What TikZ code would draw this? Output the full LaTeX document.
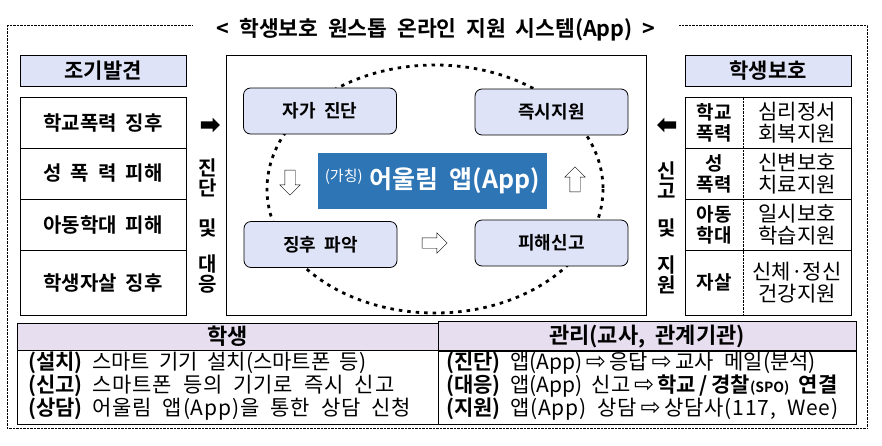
\documentclass[tikz,border=0pt]{standalone}
\usepackage{fontspec}
\setmainfont{Noto Sans CJK KR}[WordSpace=2,BoldFont={Noto Sans CJK KR Bold}]
\newfontfamily\arrowfont{DejaVu Sans}
\usetikzlibrary{shapes.arrows}
\definecolor{lav}{HTML}{DEE3F7}
\definecolor{lilac}{HTML}{E7DFF0}
\definecolor{appblue}{HTML}{2E75B6}
\newcommand{\fs}[1]{\fontsize{#1}{#1}\selectfont}
\newcommand{\harr}{\,{\arrowfont\fs{24}⇨}\,}
\newcommand{\wide}[1]{{\addfontfeature{LetterSpace=4}#1}}

\begin{document}
\begin{tikzpicture}[x=1pt,y=-1pt]
\tikzstyle{head} = [rectangle, draw, thick, fill=lav, minimum width=166pt,
minimum height=31pt, font=\fs{21}\bfseries]
\tikzstyle{cell} = [rectangle, draw, thick, minimum width=166pt, align=center,
font=\fs{20}\bfseries]
\tikzstyle{stepbox} = [rectangle, draw, thick, fill=lav, rounded corners=7pt,
minimum width=153pt, minimum height=46pt, font=\fs{18}\bfseries]
\tikzstyle{hollow} = [single arrow, draw, fill=white, inner sep=5pt,
single arrow head extend=5pt, minimum height=25pt]
\tikzstyle{solid_arr} = [single arrow, fill=black, inner sep=3.5pt,
single arrow head extend=3.5pt, minimum height=19pt]
\tikzstyle{vtext} = [align=center, font=\fs{20}\bfseries, inner sep=0pt]
\tikzstyle{rowtext} = [anchor=west, align=left, font=\fontsize{21}{23}\selectfont, inner sep=0pt]
\useasboundingbox (0,0) rectangle (882,445);

% frame and title
\draw[densely dotted] (7,25) rectangle (867,428);
\node[fill=white, font=\fs{21.5}\bfseries, minimum width=486pt] (title) at (436,30)
{< 학생보호 원스톱 온라인 지원 시스템(App) >};

% left column
\node[head] (early) at (103,70.5) {조기발견};
\node[cell, minimum height=51pt] (l1) at (103,122.5) {학교폭력 징후};
\node[cell, minimum height=51pt] (l2) at (103,173.5) {성 폭 력 피해};
\node[cell, minimum height=51pt] (l3) at (103,224.5) {아동학대 피해};
\node[cell, minimum height=65pt] (l4) at (103,282.5) {학생자살 징후};
\node[solid_arr] (toapp) at (208.5,125) {};
\node[vtext] (diag1) at (208,178) {진\\단};
\node[vtext] (diag2) at (208,228) {및};
\node[vtext] (diag3) at (208,274) {대\\응};

% centre
\node[draw, thick, minimum width=420pt, minimum height=260pt] (core) at (436,185) {};
\draw[line width=2.8pt, dash pattern=on 3.5pt off 5pt] (435,189) ellipse [x radius=168, y radius=124];
\node[stepbox] (self) at (320,111) {자가 진단};
\node[stepbox] (help) at (551.5,112) {즉시지원};
\node[stepbox] (sign) at (320.5,244.5) {징후 파악};
\node[stepbox] (report) at (551.5,243) {피해신고};
\node[fill=appblue, text=white, inner sep=2pt, minimum width=229pt, minimum height=56pt] (app) at (432.5,181)
{\raisebox{7pt}{\fs{15}(가칭)}\hspace{7pt}{\fs{25}\bfseries 어울림 앱(App)}};
\node[hollow, shape border rotate=270] (down) at (290,180) {};
\node[hollow, shape border rotate=0] (right) at (432,243) {};
\node[hollow, shape border rotate=90] (up) at (575,182) {};

% right column
\node[head] (protect) at (768,70.5) {학생보호};
\node[cell, minimum height=51pt] (r1) at (768,122.5) {};
\node[cell, minimum height=51pt] (r2) at (768,173.5) {};
\node[cell, minimum height=51pt] (r3) at (768,224.5) {};
\node[cell, minimum height=65pt] (r4) at (768,282.5) {};
\draw[densely dotted] (r1.north west -| 743,0) -- (r4.south west -| 743,0);
\foreach \n/\a/\b in {r1/학교\\폭력/심리정서\\회복지원, r2/성\\폭력/신변보호\\치료지원,
  r3/아동\\학대/일시보호\\학습지원, r4/자살/신체·정신\\건강지원}
{
\node[align=center, font=\fontsize{19}{21}\selectfont\bfseries] at (\n.center -| 714,0) {\a};
\node[align=center, font=\fontsize{21}{22}\selectfont] at (\n.center -| 797,0) {\b};
}
\node[solid_arr, shape border rotate=180] (toprot) at (668.5,125) {};
\node[vtext] (sup1) at (667,180) {신\\고};
\node[vtext] (sup2) at (667,228) {및};
\node[vtext] (sup3) at (667,275) {지\\원};

% bottom table
\node[draw, thick, fill=lilac, minimum width=421pt, minimum height=27pt,
font=\fs{22}\bfseries] (student) at (227.5,336.5) {학생};
\node[draw, thick, fill=lilac, minimum width=418pt, minimum height=27pt,
font=\fs{22}\bfseries] (admin) at (647,336.5) {관리(교사, 관계기관)};
\node[draw, thick, minimum width=421pt, minimum height=74pt] (stubody) at (227.5,387) {};
\node[draw, thick, minimum width=418pt, minimum height=74pt] (admbody) at (647,387) {};
\node[rowtext] (stutext) at (28,386.5)
{\textbf{(설치)} 스마트 기기 설치(스마트폰 등)\\
\textbf{(신고)} \wide{스마트폰 등의 기기로 즉시 신고}\\
\textbf{(상담)} \wide{어울림 앱(App)을 통한 상담 신청}};
\node[rowtext] (admtext) at (446,386.5)
{\textbf{(진단)} 앱(App)\harr 응답\harr 교사\enspace 메일(분석)\\
\textbf{(대응)} 앱(App) 신고\harr\textbf{학교\,/\,경찰{\fs{14}(SPO)} 연결}\\
\textbf{(지원)} \wide{앱(App) 상담}\harr\wide{상담사(117, Wee)}};

\end{tikzpicture}
\end{document}
